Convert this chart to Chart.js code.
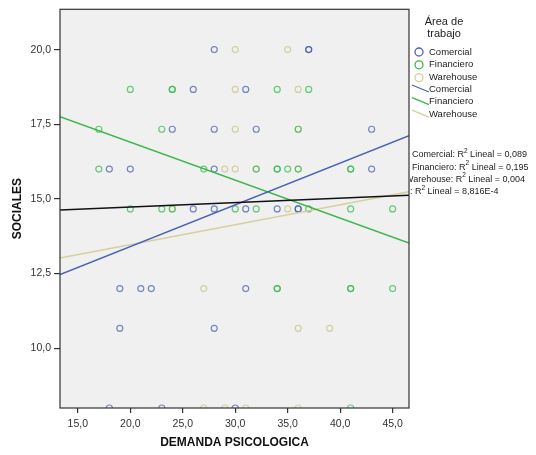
<!DOCTYPE html>
<html>
<head>
<meta charset="utf-8">
<script src="https://cdn.jsdelivr.net/npm/chart.js@4/dist/chart.umd.min.js"></script>
<style>
  html, body { margin: 0; padding: 0; background: #fff; }
  #wrap { width: 536px; height: 455px; }
</style>
</head>
<body>
<div id="wrap"><canvas id="grafico" width="536" height="455"></canvas></div>
<script>
// Demanda psicologica vs. Sociales, por area de trabajo (SPSS-like scatter)

const xTicks = [15, 20, 25, 30, 35, 40, 45];
const yTicks = [10, 12.5, 15, 17.5, 20];

const comercialX = [28, 37, 37, 26, 31, 24, 28, 32, 43, 18, 20, 28, 43, 26, 28, 31, 34, 36, 36, 19, 21, 22, 31, 19, 28, 18, 23, 30];
const comercialY = [20, 20, 20, 18.667, 18.667, 17.333, 17.333, 17.333, 17.333, 16, 16, 16, 16, 14.667, 14.667, 14.667, 14.667, 14.667, 14.667, 12, 12, 12, 12, 10.667, 10.667, 8, 8, 8];

const financieroX = [20, 24, 24, 34, 37, 17, 23, 36, 17, 27, 32, 34, 34, 35, 36, 41, 41, 20, 23, 24, 30, 32, 37, 41, 45, 34, 34, 41, 41, 45, 41];
const financieroY = [18.667, 18.667, 18.667, 18.667, 18.667, 17.333, 17.333, 17.333, 16, 16, 16, 16, 16, 16, 16, 16, 16, 14.667, 14.667, 14.667, 14.667, 14.667, 14.667, 14.667, 14.667, 12, 12, 12, 12, 12, 8];

const warehouseX = [30, 35, 30, 36, 30, 36, 29, 30, 32, 36, 24, 35, 27, 36, 39, 27, 29, 31, 36];
const warehouseY = [20, 20, 18.667, 18.667, 17.333, 17.333, 16, 16, 16, 16, 14.667, 14.667, 12, 10.667, 10.667, 8, 8, 8, 8];

const fitX = [13.3, 46.56];
const comercialFit = [12.47, 17.12];
const financieroFit = [17.75, 13.52];
const warehouseFit = [13.02, 15.24];
const totalFit = [14.63, 15.12];

const categorias = ['Comercial', 'Financiero', 'Warehouse'];
const r2Labels = ['Comercial: ', 'Financiero: ', 'Warehouse: ', ': '];
const r2Values = ['0,089', '0,195', '0,004', '8,816E-4'];

const colores = ['#4a62b6', '#3cb54c', '#d6cf9e'];
const coloresPunto = ['rgba(62,88,172,0.7)', 'rgba(46,184,72,0.7)', 'rgba(205,199,140,0.8)'];
const fuente = "'Liberation Sans', Arial, sans-serif";

const pares = (xs, ys) => xs.map((x, i) => ({ x: x, y: ys[i] }));

function puntos(label, xs, ys, color) {
  return {
    type: 'scatter', label: label, data: pares(xs, ys),
    backgroundColor: 'transparent', borderColor: color,
    pointRadius: 3, pointBorderWidth: 1.2, pointHoverRadius: 3,
    clip: 0
  };
}

function recta(label, ys, color) {
  return {
    type: 'line', label: label, data: pares(fitX, ys),
    borderColor: color, borderWidth: 1.5, pointRadius: 0,
    fill: false, clip: 0
  };
}

const fondo = {
  id: 'fondo',
  beforeDraw(chart) {
    const { ctx, chartArea: a } = chart;
    ctx.save();
    ctx.fillStyle = '#f0f0f0';
    ctx.fillRect(a.left, a.top, a.right - a.left, a.bottom - a.top);
    ctx.restore();
  },
  afterDraw(chart) {
    const { ctx, chartArea: a } = chart;
    ctx.save();
    ctx.strokeStyle = '#333';
    ctx.lineWidth = 1.2;
    ctx.strokeRect(a.left, a.top, a.right - a.left, a.bottom - a.top);

    // leyenda
    ctx.fillStyle = '#222';
    ctx.textBaseline = 'middle';
    ctx.textAlign = 'center';
    ctx.font = '11px ' + fuente;
    ctx.fillText('Área de', 444, 22);
    ctx.fillText('trabajo', 444, 34);

    ctx.textAlign = 'left';
    ctx.font = '9.5px ' + fuente;
    categorias.forEach((c, i) => {
      const y = 52 + i * 12.8;
      ctx.beginPath();
      ctx.arc(419, y, 4, 0, Math.PI * 2);
      ctx.strokeStyle = colores[i];
      ctx.lineWidth = 1.3;
      ctx.stroke();
      ctx.fillStyle = '#222';
      ctx.fillText(c, 429, y);
    });
    categorias.forEach((c, i) => {
      const y = 89 + i * 12.6;
      ctx.beginPath();
      ctx.moveTo(412, y - 4);
      ctx.lineTo(429, y + 3);
      ctx.strokeStyle = colores[i];
      ctx.lineWidth = 1.3;
      ctx.stroke();
      ctx.fillStyle = '#222';
      ctx.fillText(c, 429, y);
    });

    // etiquetas R2, recortadas por el borde del grafico
    ctx.beginPath();
    ctx.rect(a.right + 1, 0, 536 - a.right, 455);
    ctx.clip();
    const xs = [412, 412, 405, 410];
    r2Labels.forEach((t, i) => {
      const y = 155 + i * 12.3;
      let x = xs[i];
      ctx.font = '9px ' + fuente;
      ctx.fillText(t + 'R', x, y);
      x += ctx.measureText(t + 'R').width;
      ctx.font = '6.5px ' + fuente;
      ctx.fillText('2', x, y - 4);
      x += ctx.measureText('2').width;
      ctx.font = '9px ' + fuente;
      ctx.fillText(' Lineal = ' + r2Values[i], x, y);
    });
    ctx.restore();
  }
};

const fmt = v => v.toFixed(1).replace('.', ',');

new Chart(document.getElementById('grafico'), {
  data: {
    datasets: [
      recta('Total', totalFit, '#111'),
      recta('Comercial', comercialFit, colores[0]),
      recta('Financiero', financieroFit, colores[1]),
      recta('Warehouse', warehouseFit, colores[2]),
      puntos('Comercial', comercialX, comercialY, coloresPunto[0]),
      puntos('Financiero', financieroX, financieroY, coloresPunto[1]),
      puntos('Warehouse', warehouseX, warehouseY, coloresPunto[2])
    ]
  },
  options: {
    responsive: false,
    animation: false,
    layout: { padding: { top: 9, right: 127, bottom: 0, left: 0 } },
    plugins: { legend: { display: false }, tooltip: { enabled: false } },
    scales: {
      x: {
        type: 'linear', min: 13.3, max: 46.56,
        afterBuildTicks: s => { s.ticks = xTicks.map(v => ({ value: v })); },
        afterFit: s => { s.height = 47; },
        grid: { drawOnChartArea: false, drawTicks: true, tickLength: 5, color: '#333', lineWidth: 1.2 },
        border: { display: false },
        ticks: { callback: fmt, font: { size: 10.5, family: fuente }, color: '#333', padding: 5, maxRotation: 0 },
        title: { display: true, text: 'DEMANDA PSICOLOGICA', color: '#111',
                 font: { size: 12, weight: 'bold', family: fuente }, padding: { top: 0, bottom: 5 } }
      },
      y: {
        type: 'linear', min: 8.0, max: 21.35,
        afterBuildTicks: s => { s.ticks = yTicks.map(v => ({ value: v })); },
        afterFit: s => { s.width = 60; },
        grid: { drawOnChartArea: false, drawTicks: true, tickLength: 6, color: '#333', lineWidth: 1.2 },
        border: { display: false },
        ticks: { callback: fmt, font: { size: 10.5, family: fuente }, color: '#333', padding: 3 },
        title: { display: true, text: 'SOCIALES', color: '#111',
                 font: { size: 12, weight: 'bold', family: fuente }, padding: { top: 10, bottom: 0 } }
      }
    }
  },
  plugins: [fondo]
});
</script>
</body>
</html>
